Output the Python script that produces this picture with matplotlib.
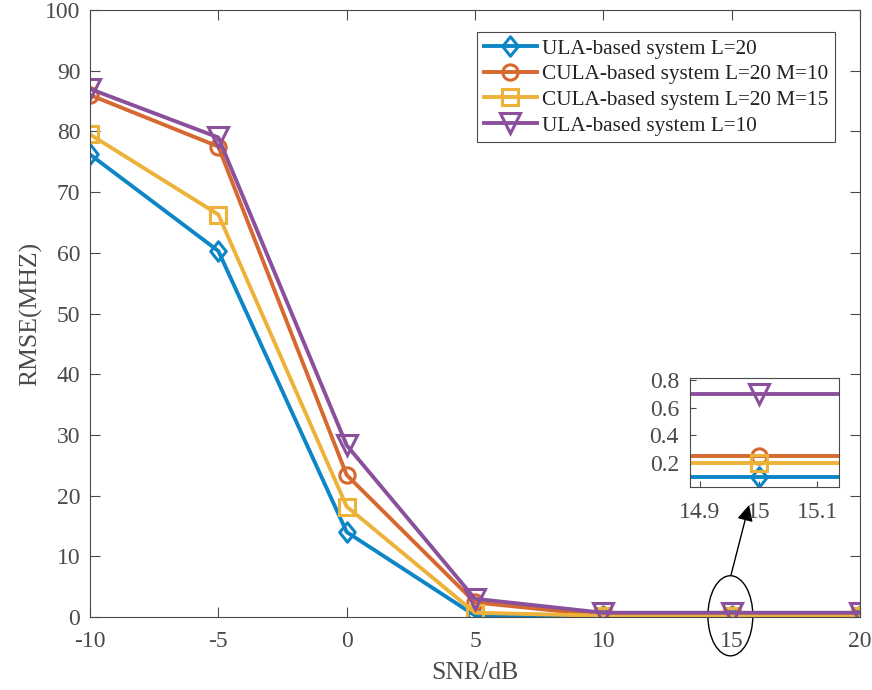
import matplotlib
matplotlib.use("Agg")
import matplotlib.pyplot as plt
from matplotlib.patches import Ellipse
from matplotlib.path import Path

plt.rcParams['font.family'] = ['Liberation Serif', 'DejaVu Serif']
plt.rcParams['mathtext.fontset'] = 'stix'

snr = [-10, -5, 0, 5, 10, 15, 20]
ula20 = [76.2, 60.3, 14.0, 0.25, 0.1, 0.1, 0.1]
cula_m10 = [86.0, 77.5, 23.4, 2.4, 0.25, 0.25, 0.25]
cula_m15 = [79.5, 66.3, 18.2, 0.7, 0.2, 0.2, 0.2]
ula10 = [87.0, 79.0, 28.3, 3.0, 0.7, 0.7, 0.7]
labels = ['ULA-based system L=20', 'CULA-based system L=20 M=10',
          'CULA-based system L=20 M=15', 'ULA-based system L=10']
xticks = [-10, -5, 0, 5, 10, 15, 20]
yticks = [0, 10, 20, 30, 40, 50, 60, 70, 80, 90, 100]
ins_xticks = [14.9, 15, 15.1]
ins_yticks = [0.2, 0.4, 0.6, 0.8]

diamond = Path([(0, 1), (0.8, 0), (0, -1), (-0.8, 0), (0, 1)],
               [Path.MOVETO, Path.LINETO, Path.LINETO, Path.LINETO, Path.CLOSEPOLY])

colors = ['#0D86C6', '#D5692F', '#EDB23A', '#8B509C']
markers = [diamond, 'o', 's', 'v']
msizes = [14, 11, 11, 14]
series = [ula20, cula_m10, cula_m15, ula10]

axcol = '#4a4a4a'
tfs = 17
fig = plt.figure(figsize=(8.72, 6.9), dpi=100)
ax = fig.add_axes([90/872, 1-617/690, 770/872, 607/690])
for s, c, m, ms, lab in zip(series, colors, markers, msizes, labels):
    ax.plot(snr, s, color=c, marker=m, markersize=ms,
            markerfacecolor='none', markeredgewidth=2.2, linewidth=2.8, label=lab)
ax.set_xlim(-10, 20)
ax.set_ylim(0, 100)
ax.set_xticks(xticks)
ax.set_xticklabels([str(t) for t in xticks])
ax.set_yticks(yticks)
ax.tick_params(axis='both', direction='in', top=True, right=True, labelsize=tfs,
               colors=axcol, length=7, width=0.8)
ax.tick_params(axis='y', pad=7)
ax.tick_params(axis='x', pad=10)
for sp in ax.spines.values():
    sp.set_color(axcol)
    sp.set_linewidth(0.8)
ax.set_xlabel('SNR/dB', fontsize=18.5, color=axcol, labelpad=7)
ax.set_ylabel('RMSE(MHZ)', fontsize=18.5, color=axcol, labelpad=2)
leg = ax.legend(loc='upper right', fontsize=15.3, frameon=True, fancybox=False,
                edgecolor=axcol, handlelength=2.5, bbox_to_anchor=(745/770, 0.963),
                borderaxespad=0, labelspacing=0.27, borderpad=0.3, handletextpad=0.25,
                framealpha=1)
leg.get_frame().set_linewidth(0.8)
for t in leg.get_texts():
    t.set_color('#222222')

# inset
axins = fig.add_axes([690/872, 1-487/690, 149/872, 109/690])
for s, c, m, ms in zip(series, colors, markers, msizes):
    axins.plot(snr, s, color=c, marker=m, markersize=ms,
               markerfacecolor='none', markeredgewidth=2.2, linewidth=2.8)
axins.set_xlim(14.883, 15.137)
axins.set_ylim(0.025, 0.815)
axins.set_xticks(ins_xticks)
axins.set_xticklabels(['14.9', '15', '15.1'])
axins.set_yticks(ins_yticks)
axins.tick_params(direction='in', labelsize=tfs, colors=axcol, length=4, width=0.8)
axins.tick_params(axis='y', pad=8)
axins.tick_params(axis='x', pad=11)
for sp in axins.spines.values():
    sp.set_color(axcol)
    sp.set_linewidth(0.8)

# ellipse and arrow
ell = Ellipse((14.95, 0.2), width=1.75, height=13.2, transform=ax.transData,
              fill=False, edgecolor='black', linewidth=1.0, clip_on=False)
ax.add_patch(ell)
ax.annotate('', xy=(749/872, 1-505/690), xycoords='figure fraction',
            xytext=(731/872, 1-575/690), textcoords='figure fraction',
            arrowprops=dict(arrowstyle='-|>', color='black', lw=1.0,
                            mutation_scale=24, shrinkA=0, shrinkB=0))

fig.savefig('out.png', dpi=100)
